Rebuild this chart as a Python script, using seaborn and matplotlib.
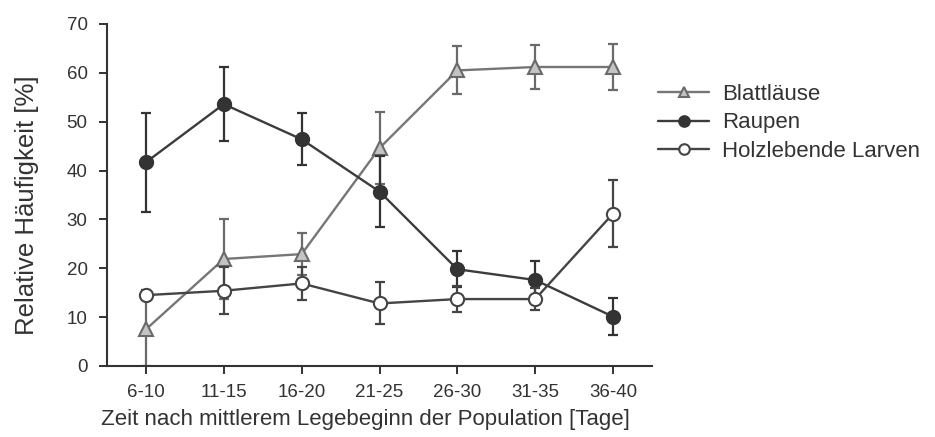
import numpy as np
import pandas as pd
import matplotlib
matplotlib.use("Agg")
import matplotlib.pyplot as plt
import seaborn as sns

# ---- data ----
categories = ["6-10", "11-15", "16-20", "21-25", "26-30", "31-35", "36-40"]
blatt = [7.5, 21.9, 22.9, 44.6, 60.5, 61.2, 61.2]
blatt_err = [7.5, 8.1, 4.3, 7.4, 4.9, 4.6, 4.8]
raupen = [41.7, 53.6, 46.4, 35.7, 19.8, 17.6, 10.1]
raupen_err = [10.1, 7.6, 5.3, 7.3, 3.7, 3.9, 3.8]
holz = [14.5, 15.4, 16.9, 12.8, 13.7, 13.7, 31.2]
holz_err = [1.0, 4.8, 3.4, 4.3, 2.6, 2.2, 6.9]
series_names = ["Blattläuse", "Raupen", "Holzlebende Larven"]
y_ticks = [0, 10, 20, 30, 40, 50, 60, 70]

sns.set_theme(style="ticks")
plt.rcParams["font.family"] = ["Liberation Sans", "DejaVu Sans"]

fig = plt.figure(figsize=(9.35, 4.37), dpi=100)
W, H = 935, 437
ax = fig.add_axes([107 / W, 1 - 366 / H, (652 - 107) / W, (366 - 24) / H])

x = np.arange(len(categories))
df = pd.DataFrame({"pos": x, "Blattläuse": blatt, "Raupen": raupen,
                   "Holzlebende Larven": holz})

styles = {
    "Blattläuse": dict(color="#767676", marker="^", mfc="#c4c4c4", mec="#6a6a6a", err=blatt_err),
    "Raupen": dict(color="#3c3c3c", marker="o", mfc="#333333", mec="#333333", err=raupen_err),
    "Holzlebende Larven": dict(color="#444444", marker="o", mfc="white", mec="#444444", err=holz_err),
}

for name in series_names:
    st = styles[name]
    ax.errorbar(df["pos"], df[name], yerr=st["err"], fmt="none",
                ecolor=st["mec"], elinewidth=1.6, capsize=3.8, capthick=1.6)
    sns.lineplot(data=df, x="pos", y=name, ax=ax, color=st["color"],
                 linewidth=1.7, marker=st["marker"], markersize=9.5,
                 markerfacecolor=st["mfc"], markeredgecolor=st["mec"],
                 markeredgewidth=1.5, label=name, errorbar=None)

ax.set_xlim(-0.5, 6.5)
ax.set_ylim(0, 70)
ax.set_xticks(x)
ax.set_xticklabels(categories)
ax.set_yticks(y_ticks)
ax.tick_params(axis="both", length=6, width=1.4, color="#333333",
               labelsize=13.5, labelcolor="#333333")
ax.tick_params(axis="y", pad=8)
ax.tick_params(axis="x", pad=7)
for side in ["top", "right"]:
    ax.spines[side].set_visible(False)
for side in ["left", "bottom"]:
    ax.spines[side].set_linewidth(1.5)
    ax.spines[side].set_color("#333333")

ax.set_xlabel("Zeit nach mittlerem Legebeginn der Population [Tage]",
              fontsize=16, color="#333333")
ax.xaxis.set_label_coords((365 - 107) / 545, (366 - 409) / 342)
ax.set_ylabel("Relative Häufigkeit [%]", fontsize=18.5, color="#333333")
ax.yaxis.set_label_coords((39 - 107) / 545, (366 - 205) / 342)

ax.legend(loc="upper left", bbox_to_anchor=(658 / W, 1 - 84 / H),
          bbox_transform=fig.transFigure, frameon=False, fontsize=16,
          borderpad=0, borderaxespad=0, handlelength=2.3, handletextpad=0.6,
          labelspacing=0.33, labelcolor="#333333", markerscale=0.8)

fig.savefig("out.png", dpi=100, facecolor="white")
